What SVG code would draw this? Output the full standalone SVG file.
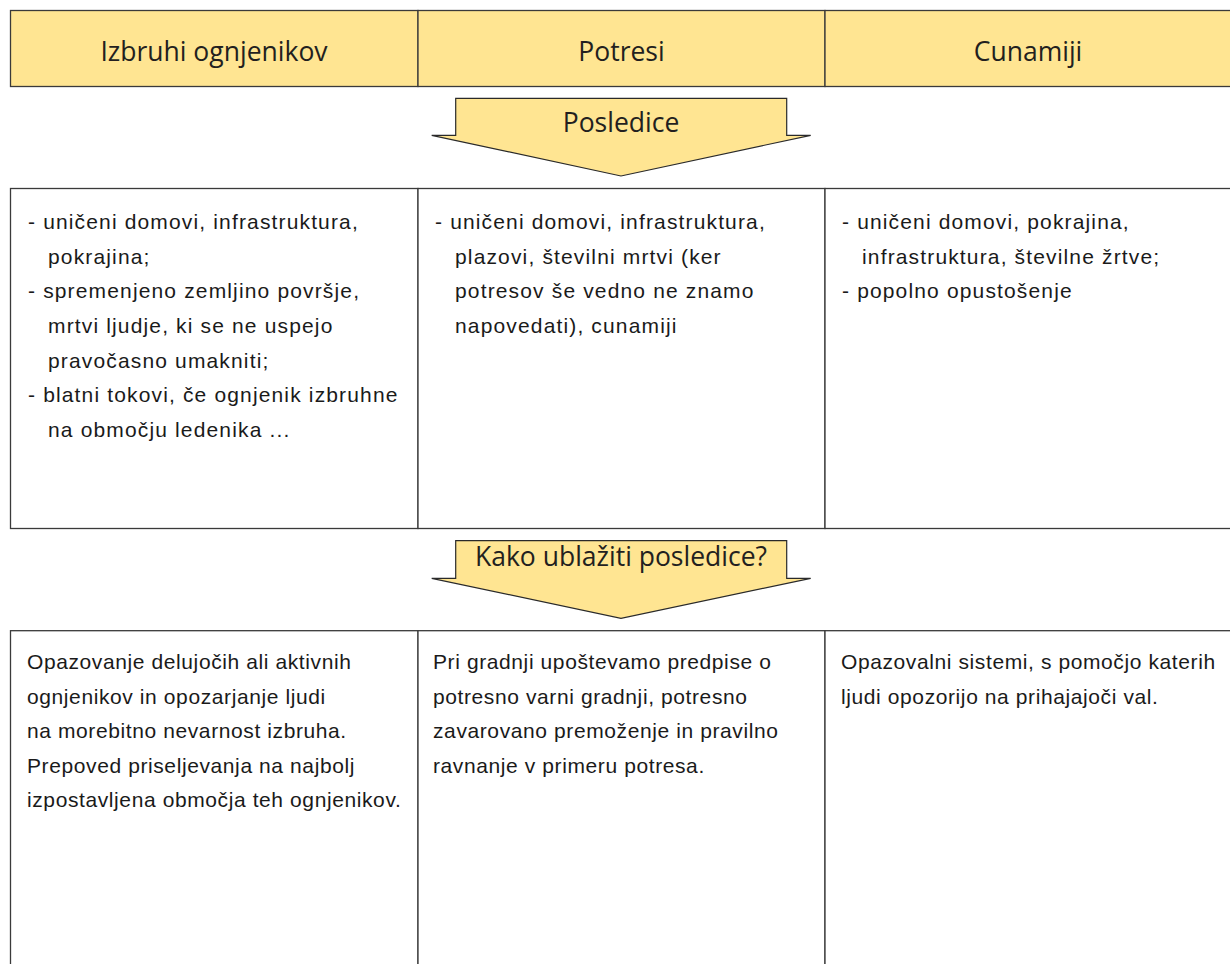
<svg xmlns="http://www.w3.org/2000/svg" width="1230" height="964" viewBox="0 0 1230 964">
<style>
.cell{fill:#ffffff;stroke:#3a3a3a;stroke-width:1.3}
.head{fill:#ffe592;stroke:#3a3a3a;stroke-width:1.3}
.arrow{fill:#ffe592;stroke:#2a2a2a;stroke-width:1.2;stroke-linejoin:miter}
.ht{font-family:"Open Sans","Noto Sans",sans-serif;font-size:26.5px;fill:#231f20;text-anchor:middle}
.bt{font-family:"Liberation Sans","DejaVu Sans",sans-serif;font-size:21px;letter-spacing:1.15px;fill:#1a1a1a}
.bt2{font-family:"Liberation Sans","DejaVu Sans",sans-serif;font-size:21px;letter-spacing:0.6px;fill:#1a1a1a}
</style>
<rect width="1230" height="964" fill="#ffffff"/>
<g id="headers">
<g id="h-volcano"><rect class="head" x="10.5" y="10.5" width="407.5" height="76"/><text class="ht" x="214" y="60.5">Izbruhi ognjenikov</text></g>
<g id="h-quake"><rect class="head" x="418" y="10.5" width="407" height="76"/><text class="ht" x="621.5" y="60.5">Potresi</text></g>
<g id="h-tsunami"><rect class="head" x="825" y="10.5" width="410" height="76"/><text class="ht" x="1028" y="60.5">Cunamiji</text></g>
</g>
<g id="arrow-posledice">
<path class="arrow" d="M455.7,98.3 H786.7 V135.3 H810.7 L621,176 L431.7,135.3 H455.7 Z"/>
<text class="ht" x="621" y="132" font-size="26.5">Posledice</text>
</g>
<g id="row-consequences">
<g id="c-volcano"><rect class="cell" x="10.5" y="188.5" width="407.5" height="340"/>
<text class="bt"><tspan x="28" y="229">- uničeni domovi, infrastruktura,</tspan><tspan x="48" y="264">pokrajina;</tspan><tspan x="28" y="298">- spremenjeno zemljino površje,</tspan><tspan x="48" y="333">mrtvi ljudje, ki se ne uspejo</tspan><tspan x="48" y="368">pravočasno umakniti;</tspan><tspan x="28" y="402">- blatni tokovi, če ognjenik izbruhne</tspan><tspan x="48" y="437">na območju ledenika ...</tspan></text></g>
<g id="c-quake"><rect class="cell" x="418" y="188.5" width="407" height="340"/>
<text class="bt"><tspan x="435" y="229">- uničeni domovi, infrastruktura,</tspan><tspan x="455" y="264">plazovi, številni mrtvi (ker</tspan><tspan x="455" y="298">potresov še vedno ne znamo</tspan><tspan x="455" y="333">napovedati), cunamiji</tspan></text></g>
<g id="c-tsunami"><rect class="cell" x="825" y="188.5" width="410" height="340"/>
<text class="bt"><tspan x="842" y="229">- uničeni domovi, pokrajina,</tspan><tspan x="862" y="264">infrastruktura, številne žrtve;</tspan><tspan x="842" y="298">- popolno opustošenje</tspan></text></g>
</g>
<g id="arrow-ublaziti">
<path class="arrow" d="M455.7,540.7 H786.7 V578.3 H810.7 L621,618.3 L431.7,578.3 H455.7 Z"/>
<text class="ht" x="621" y="566" font-size="28.6">Kako ublažiti posledice?</text>
</g>
<g id="row-mitigation">
<g id="m-volcano"><rect class="cell" x="10.5" y="630.7" width="407.5" height="345"/>
<text class="bt2"><tspan x="27" y="669">Opazovanje delujočih ali aktivnih</tspan><tspan x="27" y="704">ognjenikov in opozarjanje ljudi</tspan><tspan x="27" y="738">na morebitno nevarnost izbruha.</tspan><tspan x="27" y="773">Prepoved priseljevanja na najbolj</tspan><tspan x="27" y="807">izpostavljena območja teh ognjenikov.</tspan></text></g>
<g id="m-quake"><rect class="cell" x="418" y="630.7" width="407" height="345"/>
<text class="bt2"><tspan x="433" y="669">Pri gradnji upoštevamo predpise o</tspan><tspan x="433" y="704">potresno varni gradnji, potresno</tspan><tspan x="433" y="738">zavarovano premoženje in pravilno</tspan><tspan x="433" y="773">ravnanje v primeru potresa.</tspan></text></g>
<g id="m-tsunami"><rect class="cell" x="825" y="630.7" width="410" height="345"/>
<text class="bt2"><tspan x="841" y="669">Opazovalni sistemi, s pomočjo katerih</tspan><tspan x="841" y="704">ljudi opozorijo na prihajajoči val.</tspan></text></g>
</g>
</svg>
